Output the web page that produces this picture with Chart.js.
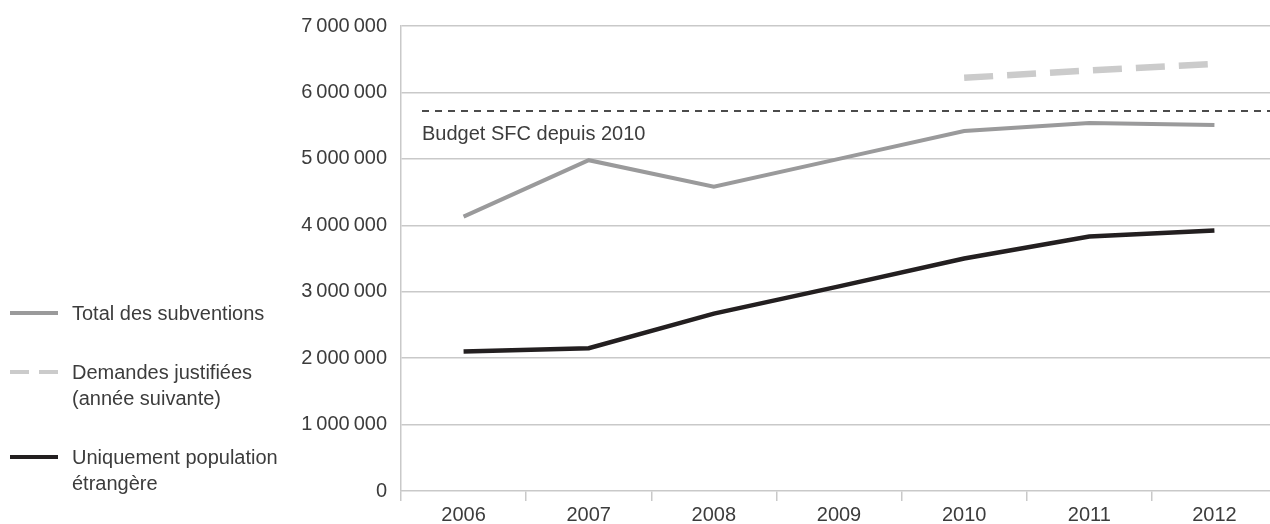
<!DOCTYPE html>
<html>
<head>
<meta charset="utf-8">
<script src="https://cdn.jsdelivr.net/npm/chart.js@4"></script>
<style>
    html, body { margin: 0; padding: 0; background: #fff; overflow: hidden; }
    #wrap { position: relative; width: 1277px; height: 524px; }
    #legend {
        position: absolute; left: 10px; top: 300px;
        font-family: "Liberation Sans", Arial, sans-serif; font-size: 20px; color: #3c3c3c;
    }
    .item { display: flex; align-items: flex-start; margin-bottom: 33px; line-height: 26px; }
    .sample { width: 48px; height: 26px; margin-right: 14px; flex: none; }
</style>
</head>
<body>
<div id="wrap">
    <canvas id="chart"></canvas>
    <div id="legend"></div>
</div>
<script>
"use strict";
const years = ["2006", "2007", "2008", "2009", "2010", "2011", "2012"];
const totalSubventions = [4130000, 4980000, 4580000, 5000000, 5420000, 5540000, 5510000];
const demandesJustifiees = [null, null, null, null, 6220000, 6330000, 6430000];
const populationEtrangere = [2100000, 2150000, 2670000, 3080000, 3500000, 3830000, 3920000];
const seriesNames = [
    "Total des subventions",
    "Demandes justifiées\n(année suivante)",
    "Uniquement population\nétrangère",
];
const budgetSFC = 5720000;
const budgetLabel = "Budget SFC depuis 2010";
const yMax = 7000000;
const yStep = 1000000;

const fontFamily = '"Liberation Sans", Arial, sans-serif';
const textColor = "#3c3c3c";
const gridColor = "#c9c9c9";

// dashed budget line + its label
const budgetPlugin = {
    id: "budget",
    afterDatasetsDraw(chart) {
        const { ctx, chartArea, scales } = chart;
        const y = scales.y.getPixelForValue(budgetSFC);
        ctx.save();
        ctx.strokeStyle = "#111";
        ctx.lineWidth = 1.6;
        ctx.setLineDash([7, 6]);
        ctx.beginPath();
        ctx.moveTo(chartArea.left + 21, y);
        ctx.lineTo(chartArea.right, y);
        ctx.stroke();
        ctx.fillStyle = textColor;
        ctx.font = "20px " + fontFamily;
        ctx.textBaseline = "middle";
        ctx.fillText(budgetLabel, chartArea.left + 21, y + 23);
        ctx.restore();
    },
};

const datasets = [
    {
        label: seriesNames[0],
        data: totalSubventions,
        borderColor: "#9a9a9b",
        borderWidth: 4,
    },
    {
        label: seriesNames[1],
        data: demandesJustifiees,
        borderColor: "#cbcbcb",
        borderWidth: 6.5,
        borderDash: [29, 14],
        legendDash: [19, 10],
    },
    {
        label: seriesNames[2],
        data: populationEtrangere,
        borderColor: "#231f20",
        borderWidth: 4.5,
    },
];
datasets.forEach((d) => {
    d.pointRadius = 0;
    d.tension = 0;
    d.borderCapStyle = "butt";
    d.borderJoinStyle = "miter";
    d.spanGaps = false;
});

const config = {
    type: "line",
    data: { labels: years, datasets: datasets },
    options: {
        responsive: true,
        maintainAspectRatio: false,
        animation: false,
        layout: { padding: { top: 25, right: 0, left: 0, bottom: 0 } },
        plugins: { legend: { display: false }, tooltip: { enabled: false } },
        scales: {
            x: {
                offset: true,
                grid: { offset: true, drawOnChartArea: false, tickLength: 10, color: gridColor, lineWidth: 1.5 },
                border: { color: gridColor, width: 1.5 },
                ticks: { color: textColor, font: { family: fontFamily, size: 20 }, padding: 2, maxRotation: 0 },
                afterFit(scale) { scale.height = 33; },
            },
            y: {
                min: 0,
                max: yMax,
                ticks: {
                    stepSize: yStep,
                    color: textColor,
                    font: { family: fontFamily, size: 20 },
                    padding: 14,
                    callback: (v) => String(v).replace(/\B(?=(\d{3})+(?!\d))/g, "\u2009"),
                },
                grid: { drawTicks: false, color: (c) => (c.tick.value === 0 ? "rgba(0,0,0,0)" : gridColor), lineWidth: 1.5 },
                border: { color: gridColor, width: 1.5 },
                afterFit(scale) { scale.width = 401; },
            },
        },
    },
    plugins: [budgetPlugin],
};

const chart = new Chart(document.getElementById("chart"), config);

// legend on the left, built from the datasets
const legend = document.getElementById("legend");
datasets.forEach((d) => {
    const item = document.createElement("div");
    item.className = "item";
    const c = document.createElement("canvas");
    c.className = "sample";
    c.width = 48;
    c.height = 26;
    const g = c.getContext("2d");
    g.strokeStyle = d.borderColor;
    g.lineWidth = 4;
    g.setLineDash(d.legendDash || []);
    g.beginPath();
    g.moveTo(0, 13);
    g.lineTo(48, 13);
    g.stroke();
    const t = document.createElement("div");
    t.innerHTML = d.label.split("\n").join("<br>");
    item.appendChild(c);
    item.appendChild(t);
    legend.appendChild(item);
});
</script>
</body>
</html>
